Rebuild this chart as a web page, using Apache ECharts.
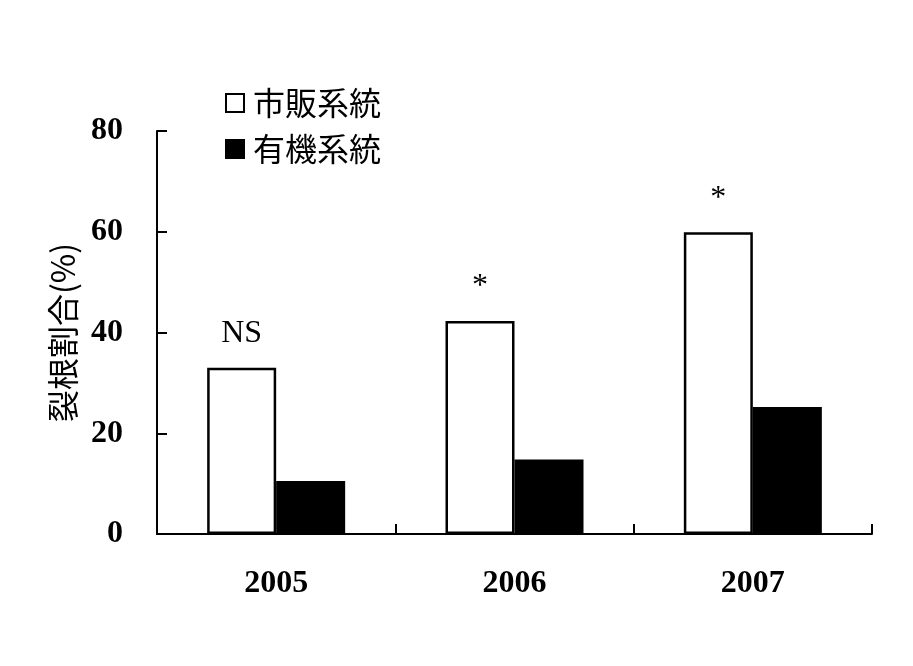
<!DOCTYPE html>
<html>
<head>
<meta charset="utf-8">
<script src="https://cdn.jsdelivr.net/npm/echarts@6/dist/echarts.min.js"></script>
<style>
html, body { margin: 0; padding: 0; background: #fff; }
#chart { width: 913px; height: 666px; }
</style>
</head>
<body>
<div id="chart"></div>
<script>
// 年次
var years = ['2005', '2006', '2007'];
// 裂根割合(%)
var shihan = [33, 42.3, 59.9];
var yuki = [10.5, 14.8, 25.2];
// 有意差の表示
var marks = ['NS', '*', '*'];
var yTicks = [0, 20, 40, 60, 80];

var chart = echarts.init(document.getElementById('chart'));
var serif = '"Liberation Serif", "Times New Roman", serif';
var cjk = '"Noto Sans CJK JP", sans-serif';

var option = {
	animation: false,
	backgroundColor: '#fff',
	grid: { left: 157, top: 131, right: 41, bottom: 132 },
	legend: {
		left: 220, top: 82,
		orient: 'vertical',
		itemWidth: 18, itemHeight: 18,
		itemGap: 14,
		icon: 'rect',
		textStyle: { fontFamily: cjk, fontSize: 32, color: '#000', padding: [0, 0, 0, 4] },
		data: ['市販系統', '有機系統']
	},
	xAxis: {
		type: 'category',
		data: years,
		axisLine: { lineStyle: { color: '#000', width: 2 } },
		axisTick: { show: true, inside: true, length: 10, lineStyle: { color: '#000', width: 2 } },
		axisLabel: { fontFamily: serif, fontWeight: 'bold', fontSize: 32, color: '#000', margin: 34 }
	},
	yAxis: {
		type: 'value',
		min: 0, max: 80, interval: 20,
		name: '裂根割合(%)',
		nameLocation: 'middle',
		nameRotate: 90,
		nameGap: 78,
		nameTextStyle: { fontFamily: cjk, fontSize: 32, color: '#000' },
		splitLine: { show: false },
		axisLine: { show: true, lineStyle: { color: '#000', width: 2 } },
		axisTick: { show: true, inside: true, length: 10, lineStyle: { color: '#000', width: 2 } },
		axisLabel: {
			fontFamily: serif, fontWeight: 'bold', fontSize: 32, color: '#000', margin: 34,
			formatter: function(v) { return yTicks.indexOf(v) >= 0 ? String(v) : ''; }
		}
	},
	series: [
		{
			name: '市販系統',
			type: 'bar',
			data: shihan,
			barWidth: 69,
			barGap: '0%',
			itemStyle: { color: '#fff', borderColor: '#000', borderWidth: 2.5 },
			label: {
				show: true,
				position: 'top',
				distance: 18,
				fontFamily: serif,
				fontSize: 32,
				color: '#000',
				formatter: function(p) { return marks[p.dataIndex]; }
			}
		},
		{
			name: '有機系統',
			type: 'bar',
			data: yuki,
			barWidth: 69,
			itemStyle: { color: '#000', borderColor: '#000', borderWidth: 2 }
		}
	]
};
chart.setOption(option);
</script>
</body>
</html>
